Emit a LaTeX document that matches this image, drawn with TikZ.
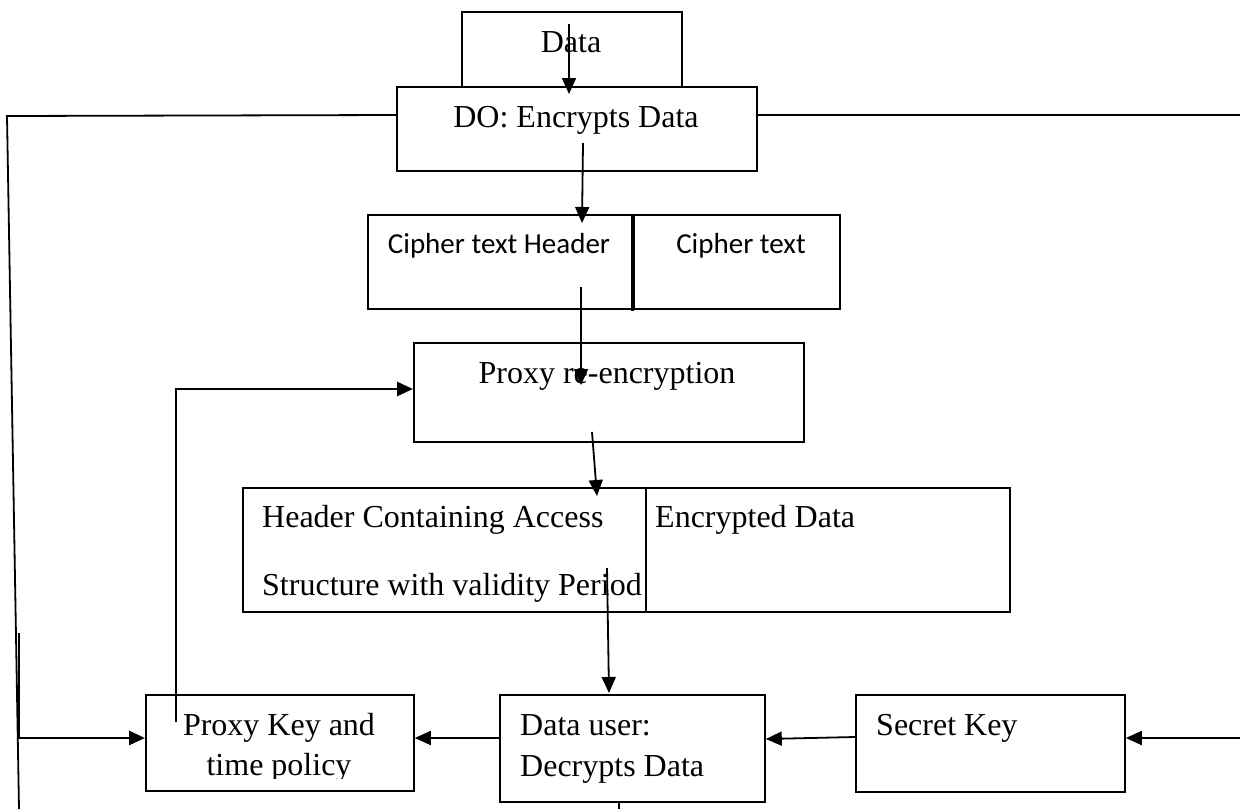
\documentclass[tikz,border=0pt]{standalone}
\usepackage{fontspec}
\setmainfont{Liberation Serif}
\newfontfamily\cipherfont{Carlito}
\usetikzlibrary{arrows.meta,calc}

\tikzset{
  box/.style={draw, line width=1.8pt, inner sep=0pt, anchor=north west, fill=white},
  txt/.style={inner sep=0pt, anchor=base, font=\fontsize{32pt}{38pt}\selectfont},
  ltxt/.style={txt, anchor=base west},
  ctxt/.style={inner sep=0pt, anchor=base, font=\cipherfont\fontsize{29pt}{35pt}\selectfont},
  link/.style={line width=1.8pt},
  heavy/.style={line width=2.8pt}
}

\begin{document}
\begin{tikzpicture}[x=1pt, y=-1pt, >={Triangle[length=16pt,width=14pt]}]
      \useasboundingbox (0,0) rectangle (1240,809);
      \def \lhs {19}   % x of the long line on the left
      \def \rhs {1240} % right border

      % boxes, placed by their top left corner
      \node[box, minimum width=220pt, minimum height=75pt] (data) at (461,11) {};
      \node[box, minimum width=360pt, minimum height=84pt] (do) at (396,86) {};
      \node[box, minimum width=265pt, minimum height=94pt] (chead) at (367,214) {};
      \node[box, minimum width=206pt, minimum height=94pt] (ctext) at (633,214) {};
      \draw[line width=1.8pt] (ctext.north west) -- (ctext.south west) -- ++(-1,0) -- ++(0,-94);
      \node[box, minimum width=390pt, minimum height=99pt] (pre) at (413,342) {};
      \node[box, minimum width=403pt, minimum height=124pt] (hdr) at (242,487) {};
      \node[box, minimum width=364pt, minimum height=124pt] (enc) at (645,487) {};
      \node[box, minimum width=268pt, minimum height=96pt] (pkey) at (145,694) {};
      \node[box, minimum width=265pt, minimum height=107pt] (duser) at (499,694) {};
      \node[box, minimum width=269pt, minimum height=97pt] (skey) at (855,694) {};

      % texts
      \node[txt] (datatxt) at (571,52) {Data};
      \node[txt] (dotxt) at (576,127) {DO: Encrypts Data};
      \node[ctxt] (cheadtxt) at (499,253) {Cipher text Header};
      \node[ctxt] (ctexttxt) at (741,253) {Cipher text};
      \node[txt] (pretxt) at (607,383) {Proxy re-encryption};
      \node[ltxt] (hdrtxta) at (262,527) {Header Containing Access};
      \node[ltxt] (hdrtxtb) at (262,595) {Structure with validity Period};
      \node[ltxt] (enctxt) at (655,527) {Encrypted Data};
      \node[txt] (pkeytxta) at (279,735) {Proxy Key and};
      \begin{scope}
        \clip (145,694) rectangle (413,778);
        \node[txt] (pkeytxtb) at (279,775) {time policy};
      \end{scope}
      \node[ltxt] (dusertxta) at (520,735) {Data user:};
      \node[ltxt] (dusertxtb) at (520,776) {Decrypts Data};
      \node[ltxt] (skeytxt) at (876,735) {Secret Key};

      % free ends at the border
      \coordinate (lcorner) at (7,116);
      \coordinate (lfoot) at (\lhs,809);
      \coordinate (lbranch) at (\lhs,633);
      \coordinate (rout) at (\rhs,115);
      \coordinate (rin) at (\rhs,738);
      \coordinate (dufoot) at (619,809);

      % flow down the middle
      \draw[link, ->] ($(data.north west)+(108,13)$) -- ($(do.north west)+(173,8)$);
      \draw[link, ->] ($(do.north west)+(187,57)$) -- ($(chead.north west)+(215,9)$);
      \draw[link, ->] ($(chead.north west)+(214,73)$) -- ($(pre.north west)+(168,43)$);
      \draw[link, ->] ($(pre.north west)+(179,90)$) -- ($(hdr.north west)+(355,9)$);
      \draw[link, ->] ($(hdr.north west)+(365,81)$) -- ($(duser.north west)+(110,-1)$);
      \draw[link] ($(duser.south west)+(120,0)$) -- (dufoot);

      % bottom row
      \draw[link, ->] ($(duser.north west)+(0,44)$) -- ($(pkey.north east)+(0,44)$);
      \draw[link, ->] ($(skey.north west)+(0,43)$) -- ($(duser.north east)+(0,45)$);
      \draw[link, ->] (rin) -- ($(skey.north east)+(0,44)$);

      % lines round the sides
      \draw[link] ($(do.north west)+(0,29)$) -- (lcorner) -- (lfoot);
      \draw[link] ($(do.north east)+(0,29)$) -- (rout);
      \draw[heavy, ->] (lbranch) |- ($(pkey.north west)+(0,44)$);
      \draw[heavy, ->] ($(pkey.north west)+(31,28)$) |- ($(pre.north west)+(0,47)$);
    \end{tikzpicture}
\end{document}
